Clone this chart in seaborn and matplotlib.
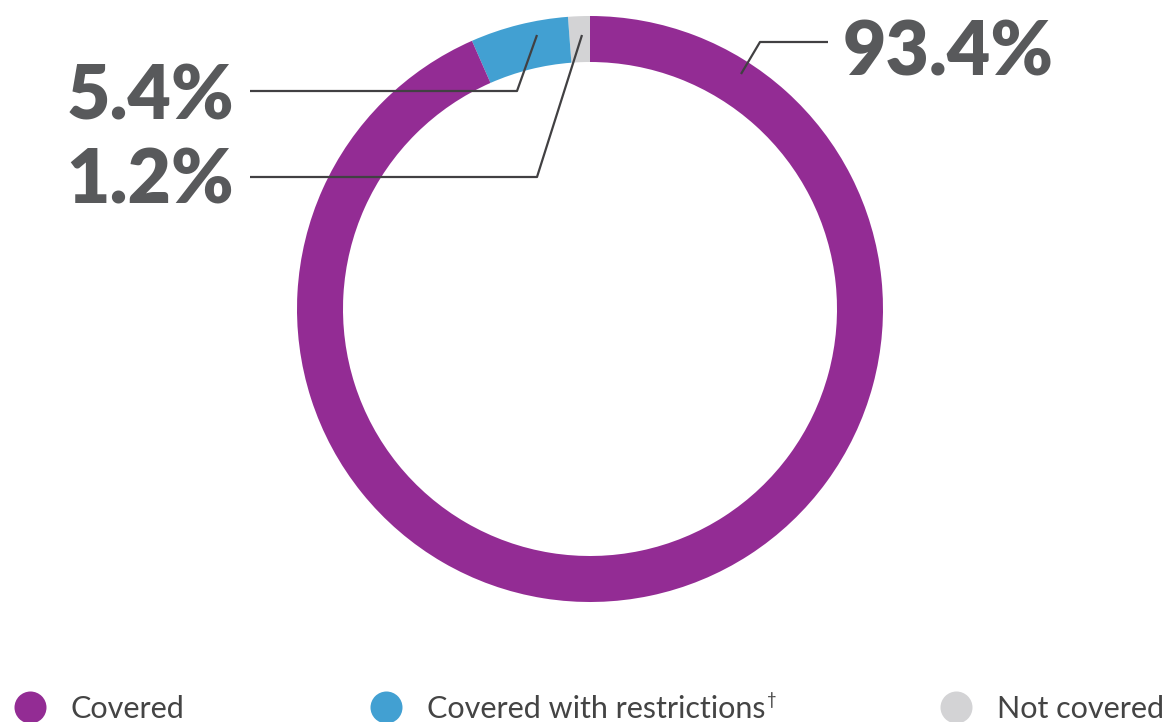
import matplotlib
matplotlib.use("Agg")
import matplotlib.pyplot as plt
import seaborn as sns

# ---- data ----
categories = ["Covered", "Covered with restrictions", "Not covered"]
values = [93.4, 5.4, 1.2]
colors = ["#932C94", "#42A0D2", "#D3D3D5"]
legend_suffix = ["", "\u2020", ""]

sns.set_theme(style="white")
plt.rcParams['font.family'] = ['Lato', 'DejaVu Sans']

W, H = 1172, 722
fig = plt.figure(figsize=(W / 100, H / 100), dpi=100)
ax = fig.add_axes([0, 0, 1, 1])

def py(y):
    return H - y

# pie order counterclockwise from top: Not covered, restrictions, Covered
order = [2, 1, 0]
cx, cy, R, ring = 590, py(309), 293, 46
wedges, _ = ax.pie([values[i] for i in order], colors=[colors[i] for i in order],
                   startangle=90, counterclock=True, center=(cx, cy), radius=R,
                   wedgeprops=dict(width=ring, linewidth=0))
ax.set_xlim(0, W)
ax.set_ylim(0, H)
ax.set_aspect('equal')
ax.axis('off')

txt_col = "#58595B"
line_col = "#414042"
lw = 1.6

# leader lines and labels
ax.plot([741, 760, 828], [py(74), py(42), py(42)], color=line_col, lw=lw, solid_capstyle='butt')
ax.text(843, py(47), f"{values[0]}%", fontsize=54, fontweight='heavy', color=txt_col,
        ha='left', va='center_baseline')
ax.plot([537, 517, 250], [py(35), py(91), py(91)], color=line_col, lw=lw, solid_capstyle='butt')
ax.text(234, py(91), f"{values[1]}%", fontsize=54, fontweight='heavy', color=txt_col,
        ha='right', va='center_baseline')
ax.plot([582, 537, 250], [py(35), py(177), py(177)], color=line_col, lw=lw, solid_capstyle='butt')
ax.text(234, py(175), f"{values[2]}%", fontsize=54, fontweight='heavy', color=txt_col,
        ha='right', va='center_baseline')

# legend
leg_x = [30, 386, 956]
leg_y = py(707)
fig.canvas.draw()
renderer = fig.canvas.get_renderer()
for i, cat in enumerate(categories):
    ax.scatter([leg_x[i]], [leg_y], s=(32 * 0.72) ** 2, color=colors[i], linewidths=0, clip_on=False)
    t = ax.text(leg_x[i] + 41, leg_y, cat, fontsize=22, color="#444444",
                ha='left', va='center_baseline')
    if legend_suffix[i]:
        bb = t.get_window_extent(renderer)
        ax.text(bb.x1 + 2, leg_y + 8, legend_suffix[i], fontsize=12, color="#444444",
                ha='left', va='center_baseline')

fig.savefig("out.png", dpi=100)
